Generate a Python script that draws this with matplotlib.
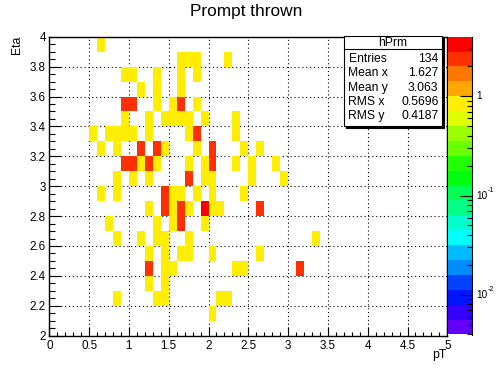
import numpy as np
import matplotlib
matplotlib.use('Agg')
import matplotlib.pyplot as plt
from matplotlib.colors import ListedColormap, LogNorm
from matplotlib.patches import Rectangle
from matplotlib.lines import Line2D
import matplotlib.ticker as mticker
import matplotlib.transforms as mtrans
import colorsys

plt.rcParams['font.family'] = ['Liberation Sans', 'DejaVu Sans']

# ---------------- data (bin centres and contents) ----------------
eta_rows = [3.95, 3.85, 3.75, 3.65, 3.55, 3.45, 3.35, 3.25, 3.15, 3.05,
            2.95, 2.85, 2.75, 2.65, 2.55, 2.45, 2.35, 2.25, 2.15]
pt_in_row = [
    [0.65],
    [1.65, 1.75, 1.85, 2.25],
    [0.95, 1.05, 1.35, 1.65, 1.85],
    [1.15, 1.35, 1.65],
    [0.95, 1.05, 1.35, 1.55, 1.65, 1.85],
    [0.95, 1.25, 1.45, 1.55, 1.65, 1.75, 1.95, 2.35],
    [0.55, 0.75, 0.85, 0.95, 1.05, 1.25, 1.75, 1.85, 2.35],
    [0.65, 0.85, 1.15, 1.35, 1.45, 1.85, 2.05, 2.45, 2.65],
    [0.95, 1.05, 1.15, 1.25, 1.35, 1.75, 1.95, 2.05, 2.35, 2.55, 2.85],
    [0.85, 1.05, 1.25, 1.75, 1.95, 2.05, 2.55, 2.95],
    [0.65, 0.85, 1.45, 1.55, 1.65, 1.85, 2.05, 2.45],
    [1.25, 1.45, 1.55, 1.65, 1.75, 1.95, 2.05, 2.15, 2.65],
    [0.75, 1.35, 1.55, 1.65, 1.95],
    [0.85, 1.15, 1.35, 1.45, 1.75, 3.35],
    [1.25, 1.45, 1.65, 1.75, 2.05, 2.65],
    [1.25, 1.45, 1.55, 2.35, 2.45, 3.15],
    [1.25, 1.45],
    [0.85, 1.35, 1.45, 2.15, 2.25],
    [2.05],
]
count_in_row = [
    [1],
    [1, 1, 1, 1],
    [1, 1, 1, 1, 1],
    [1, 1, 1],
    [2, 2, 1, 1, 2, 1],
    [1, 1, 1, 1, 1, 1, 1, 1],
    [1, 1, 1, 1, 1, 1, 1, 2, 1],
    [1, 1, 2, 2, 1, 1, 2, 1, 1],
    [2, 2, 1, 2, 1, 1, 1, 2, 1, 1, 1],
    [1, 1, 1, 2, 1, 1, 1, 1],
    [1, 1, 2, 1, 1, 1, 1, 1],
    [1, 2, 1, 2, 1, 4, 1, 1, 2],
    [1, 1, 1, 2, 1],
    [1, 1, 1, 1, 1, 1],
    [1, 1, 1, 1, 1, 1],
    [2, 1, 1, 1, 1, 2],
    [1, 1],
    [1, 1, 1, 1, 1],
    [1],
]
stats_labels = ["Entries", "Mean x", "Mean y", "RMS x", "RMS y"]
stats_values = ["134", "1.627", "3.063", "0.5696", "0.4187"]
hist_name = "hPrm"
title = "Prompt thrown"
x_title = "pT"
y_title = "Eta"
z_ticks = [0.01, 0.1, 1]
z_tick_base = ["10", "10", "1"]
z_tick_exp = ["-2", "-1", ""]

pt = [p for row in pt_in_row for p in row]
eta = [e for e, row in zip(eta_rows, pt_in_row) for _ in row]
w = [c for row in count_in_row for c in row]

xedges = np.linspace(0, 5, 51)
yedges = np.linspace(2, 4, 21)
H, xe, ye = np.histogram2d(pt, eta, bins=[xedges, yedges], weights=w)
Hm = np.ma.masked_less_equal(H.T, 0)

# ROOT "pretty" palette, 20 contour levels
cols = []
for k in range(20):
    idx = int((k + 0.99) * 50 / 20)
    hue = 280 - (idx + 1) * 5.6
    cols.append(colorsys.hls_to_rgb(hue / 360.0, 0.5, 1.0))
cmap = ListedColormap(cols)
zmax = 4.0
zmin = 0.001 * zmax
shift = 10 ** (-0.0015)
norm = LogNorm(vmin=zmin * shift, vmax=zmax * shift)

W, Hpx = 496, 372
fig = plt.figure(figsize=(W / 100, Hpx / 100), dpi=100)
fig.patch.set_facecolor('white')

def fx(px):
    return px / W

def fy(py):
    return 1 - py / Hpx

L, R, T, B = 49.3, 447.3, 36.7, 335.7
ax = fig.add_axes([fx(L), fy(B), fx(R) - fx(L), fy(T) - fy(B)])
ax.set_axisbelow(True)
mesh = ax.pcolormesh(xe, ye, Hm, cmap=cmap, norm=norm, shading='flat')
ax.set_xlim(0, 5)
ax.set_ylim(2, 4)
ax.xaxis.set_major_locator(mticker.MultipleLocator(0.5))
ax.xaxis.set_minor_locator(mticker.MultipleLocator(0.1))
ax.yaxis.set_major_locator(mticker.MultipleLocator(0.2))
ax.yaxis.set_minor_locator(mticker.MultipleLocator(0.05))
fmt = mticker.FuncFormatter(lambda v, p: ('%g' % round(v, 3)))
ax.xaxis.set_major_formatter(fmt)
ax.yaxis.set_major_formatter(fmt)
ax.tick_params(axis='x', which='major', direction='in', length=6.5, width=0.8,
               labelsize=8.4, pad=3, top=False)
ax.tick_params(axis='x', which='minor', direction='in', length=3.2, width=0.8, top=False)
ax.tick_params(axis='y', which='major', direction='in', length=8.6, width=0.8,
               labelsize=8.4, pad=2.5, right=False)
ax.tick_params(axis='y', which='minor', direction='in', length=4.3, width=0.8, right=False)
ax.grid(True, which='major', color='black', linestyle=(0, (1, 2.5)), linewidth=0.8)
for s in ax.spines.values():
    s.set_linewidth(1.0)
    s.set_color('black')

# colorbar
cax = fig.add_axes([fx(448.3), fy(334.5), fx(471.7) - fx(448.3), fy(36.7) - fy(334.5)])
cb = fig.colorbar(mesh, cax=cax)
cb.outline.set_visible(False)
cax.yaxis.set_ticks_position('right')
cax.set_yticks(z_ticks)
cax.set_yticklabels([''] * len(z_ticks))
cax.yaxis.set_minor_locator(mticker.LogLocator(base=10, subs=np.arange(2, 10)))
cax.yaxis.set_minor_formatter(mticker.NullFormatter())
cax.tick_params(which='major', direction='in', length=8.6, width=0.8,
                right=True, left=False)
cax.tick_params(which='minor', direction='in', length=3.6, width=0.8, right=True, left=False)
cax.add_line(Line2D([1, 1], [0, 1], transform=cax.transAxes, color='black', lw=0.8,
                    clip_on=False))
ytr = cax.get_yaxis_transform()
for v, base, ex in zip(z_ticks, z_tick_base, z_tick_exp):
    t1 = mtrans.offset_copy(ytr, fig=fig, x=4.5, y=0, units='dots')
    cax.text(1, v, base, transform=t1, ha='left', va='center', fontsize=7.2, clip_on=False)
    if ex:
        t2 = mtrans.offset_copy(ytr, fig=fig, x=16.3, y=5, units='dots')
        cax.text(1, v, ex, transform=t2, ha='left', va='center', fontsize=5.2, clip_on=False)

# title and axis titles
fig.text(fx(246), fy(11.5), title, ha='center', va='center', fontsize=12.4)
fig.text(fx(446), fy(355), x_title, ha='right', va='center', fontsize=8.8)
fig.text(fx(17), fy(36), y_title, ha='center', va='top', rotation=90, fontsize=8.8)

# stats box
bx0, bx1, by0, by1 = 344, 441.7, 36.2, 125.7
fig.patches.append(Rectangle((fx(bx0 + 2), fy(by1 + 2)), fx(bx1) - fx(bx0), fy(by0) - fy(by1),
                             transform=fig.transFigure, facecolor='black', edgecolor='black',
                             lw=0.8, zorder=5))
fig.patches.append(Rectangle((fx(bx0), fy(by1)), fx(bx1) - fx(bx0), fy(by0) - fy(by1),
                             transform=fig.transFigure, facecolor='white', edgecolor='black',
                             lw=0.8, zorder=6))
fig.lines.append(Line2D([fx(bx0), fx(bx1)], [fy(49.3), fy(49.3)], transform=fig.transFigure,
                        color='black', lw=0.8, zorder=7))
fig.text(fx((bx0 + bx1) / 2), fy(46.5), hist_name, ha='center', va='baseline',
         fontsize=8.7, zorder=8)
baselines = [62.3, 76.5, 90.7, 104.9, 119.1]
for lab, val, bl in zip(stats_labels, stats_values, baselines):
    fig.text(fx(348.5), fy(bl), lab, ha='left', va='baseline', fontsize=8.7, zorder=8)
    fig.text(fx(438.5), fy(bl), val, ha='right', va='baseline', fontsize=8.7, zorder=8)

fig.savefig('out.png', dpi=100, facecolor='white')
